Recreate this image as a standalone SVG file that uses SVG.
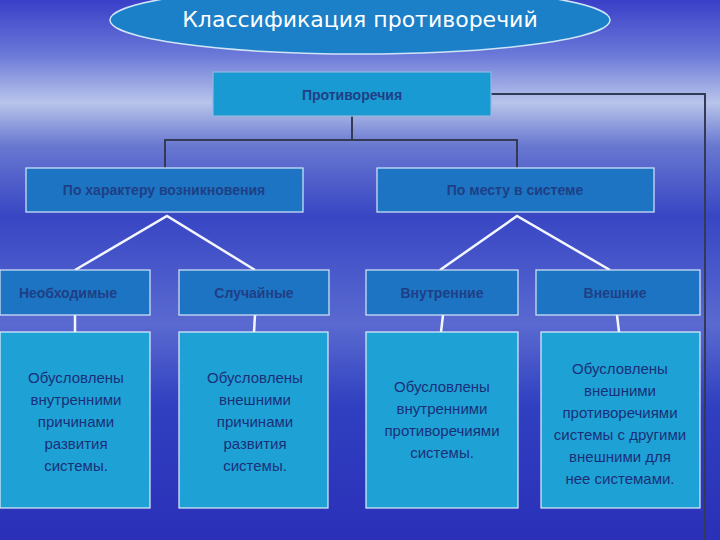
<svg xmlns="http://www.w3.org/2000/svg" width="720" height="540" viewBox="0 0 720 540">
<defs>
<linearGradient id="bg" x1="0" y1="0" x2="0" y2="1">
<stop offset="0" stop-color="#3a3fc8"/>
<stop offset="0.1" stop-color="#6a78d8"/>
<stop offset="0.19" stop-color="#b8c4ea"/>
<stop offset="0.27" stop-color="#6878d0"/>
<stop offset="0.4" stop-color="#3846c4"/>
<stop offset="0.6" stop-color="#5a6ad0"/>
<stop offset="0.75" stop-color="#3040c0"/>
<stop offset="1" stop-color="#2a30b8"/>
</linearGradient>
<style>
.l2{fill:#1d74c2;stroke:#d8e8f8;stroke-width:1.2}
.l3{fill:#1d74c2;stroke:#d8e8f8;stroke-width:1.2}
.l4{fill:#1ea2d6;stroke:#e0eef8;stroke-width:1.2}
.t{font-family:"Liberation Sans",Arial,sans-serif;fill:#1b2f78;text-anchor:middle}
.h{font-size:14px;font-weight:bold;fill:#1e3f86}
.b{font-size:15px}
.dk{stroke:#333a55;stroke-width:2;fill:none}
.wh{stroke:#f4f6ff;stroke-width:2.5;fill:none}
</style>
</defs>
<rect width="720" height="540" fill="url(#bg)"/>
<g id="title">
<ellipse cx="360" cy="20" rx="250" ry="34" fill="#1b80c8" stroke="#cfe4f6" stroke-width="1.5"/>
<text x="360" y="27" font-family="'Comic Sans MS','DejaVu Sans',sans-serif" font-size="22" fill="#ffffff" text-anchor="middle">Классификация противоречий</text>
</g>
<g id="connectors">
<polyline class="dk" points="491,94 705,94 705,540"/>
<polyline class="dk" points="352,116 352,140"/>
<polyline class="dk" points="165,168 165,140 517,140 517,168"/>
<polyline class="wh" points="75,270 167,216 255,270"/>
<polyline class="wh" points="440,270 517,216 610,270"/>
<line class="wh" x1="75" y1="315" x2="75" y2="332"/>
<line class="wh" x1="255" y1="315" x2="254" y2="332"/>
<line class="wh" x1="443" y1="315" x2="441" y2="332"/>
<line class="wh" x1="617" y1="315" x2="619" y2="332"/>
</g>
<g id="root">
<rect x="213" y="72" width="278" height="44" fill="#1a9ad2" stroke="#8fb8e0" stroke-width="1.2"/>
<text class="t h" x="352" y="100">Противоречия</text>
</g>
<g id="n-character">
<rect class="l2" x="26" y="168" width="277" height="44"/>
<text class="t h" x="164" y="195">По характеру возникновения</text>
</g>
<g id="n-place">
<rect class="l2" x="377" y="168" width="277" height="44"/>
<text class="t h" x="515" y="195">По месту в системе</text>
</g>
<g id="n-necessary">
<rect class="l3" x="0" y="270" width="150" height="45"/>
<text class="t h" x="68" y="298">Необходимые</text>
</g>
<g id="n-random">
<rect class="l3" x="179" y="270" width="150" height="45"/>
<text class="t h" x="254" y="298">Случайные</text>
</g>
<g id="n-internal">
<rect class="l3" x="366" y="270" width="152" height="45"/>
<text class="t h" x="442" y="298">Внутренние</text>
</g>
<g id="n-external">
<rect class="l3" x="536" y="270" width="164" height="45"/>
<text class="t h" x="615" y="298">Внешние</text>
</g>
<g id="d-necessary">
<rect class="l4" x="0" y="332" width="150" height="176"/>
<text class="t b" x="76" y="383">Обусловлены</text>
<text class="t b" x="76" y="405">внутренними</text>
<text class="t b" x="76" y="427">причинами</text>
<text class="t b" x="76" y="449">развития</text>
<text class="t b" x="76" y="471">системы.</text>
</g>
<g id="d-random">
<rect class="l4" x="179" y="332" width="149" height="176"/>
<text class="t b" x="255" y="383">Обусловлены</text>
<text class="t b" x="255" y="405">внешними</text>
<text class="t b" x="255" y="427">причинами</text>
<text class="t b" x="255" y="449">развития</text>
<text class="t b" x="255" y="471">системы.</text>
</g>
<g id="d-internal">
<rect class="l4" x="366" y="332" width="152" height="176"/>
<text class="t b" x="442" y="392">Обусловлены</text>
<text class="t b" x="442" y="414">внутренними</text>
<text class="t b" x="442" y="436">противоречиями</text>
<text class="t b" x="442" y="458">системы.</text>
</g>
<g id="d-external">
<rect class="l4" x="541" y="332" width="159" height="176"/>
<text class="t b" x="620" y="374">Обусловлены</text>
<text class="t b" x="620" y="396">внешними</text>
<text class="t b" x="620" y="418">противоречиями</text>
<text class="t b" x="620" y="440">системы с другими</text>
<text class="t b" x="620" y="462">внешними для</text>
<text class="t b" x="620" y="484">нее системами.</text>
</g>
</svg>
